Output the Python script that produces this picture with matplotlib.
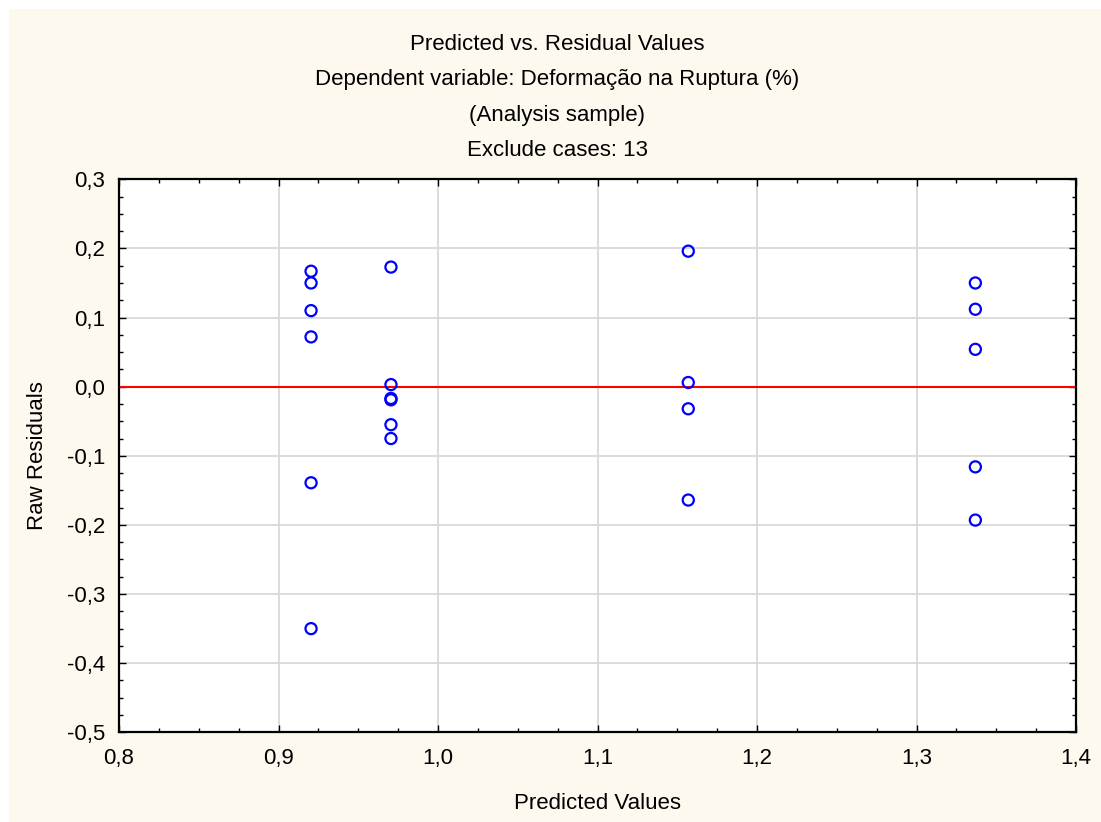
import matplotlib
matplotlib.use('Agg')
from matplotlib import pyplot as plt
from matplotlib.patches import Rectangle
from matplotlib.ticker import FuncFormatter, MultipleLocator

# predicted values (one per fitted group) and the raw residuals around them
PRED_A = 0.9204
PRED_B = 0.9705
PRED_C = 1.1569
PRED_D = 1.3369

RESID_A = [0.167, 0.150, 0.110, 0.072, -0.139, -0.350]
RESID_B = [0.173, 0.003, -0.017, -0.019, -0.055, -0.075]
RESID_C = [0.196, 0.006, -0.032, -0.164]
RESID_D = [0.150, 0.112, 0.054, -0.116, -0.193]

TITLE_LINES = ['Predicted vs. Residual Values',
               'Dependent variable: Deformação na Ruptura (%)',
               '(Analysis sample)',
               'Exclude cases: 13']

plt.rcParams['font.family'] = ['Liberation Sans', 'DejaVu Sans']
FS = 16

x = ([PRED_A] * len(RESID_A) + [PRED_B] * len(RESID_B)
     + [PRED_C] * len(RESID_C) + [PRED_D] * len(RESID_D))
y = RESID_A + RESID_B + RESID_C + RESID_D

fig = plt.figure(figsize=(11.01, 8.22), dpi=100)
fig.patch.set_facecolor('white')
fig.patches.append(Rectangle((9 / 1101, 0), 1, 1 - 9 / 822,
                             transform=fig.transFigure, facecolor='#FDF9EF',
                             edgecolor='none', zorder=-10))

ax = fig.add_axes([0.1081, 0.1091, 0.8692, 0.6728])
ax.set_facecolor('white')
ax.set_xlim(0.8, 1.4)
ax.set_ylim(-0.5, 0.3)

ax.xaxis.set_major_locator(MultipleLocator(0.1))
ax.yaxis.set_major_locator(MultipleLocator(0.1))
ax.xaxis.set_minor_locator(MultipleLocator(0.025))
ax.yaxis.set_minor_locator(MultipleLocator(0.025))
comma = FuncFormatter(lambda v, p: f'{v:.1f}'.replace('.', ',').replace('-0,0', '0,0'))
ax.xaxis.set_major_formatter(comma)
ax.yaxis.set_major_formatter(comma)

ax.tick_params(which='both', direction='in', top=True, right=True,
               labelsize=FS, color='black')
ax.tick_params(which='major', length=5, width=1)
ax.tick_params(axis='x', which='major', pad=11)
ax.tick_params(axis='y', which='major', pad=10)
ax.tick_params(which='minor', length=3, width=1)
for s in ax.spines.values():
    s.set_linewidth(1.6)

ax.grid(True, which='major', color='#D9D9D9', linewidth=1.3)
ax.set_axisbelow(True)

ax.axhline(0, color='#FF0000', linewidth=1.5, zorder=2)
ax.scatter(x, y, s=64, facecolors='none', edgecolors='#0000FF',
           linewidths=1.6, zorder=3)

ax.set_xlabel('Predicted Values', fontsize=FS, va='center')
ax.set_ylabel('Raw Residuals', fontsize=FS, va='center')
ax.xaxis.set_label_coords(0.5, -0.128)
ax.yaxis.set_label_coords(-0.0857, 0.5)

# four-line header, centred over the figure
for i, line in enumerate(TITLE_LINES):
    fig.text(0.506, 1 - (44 + 35.5 * i) / 822, line, ha='center',
             va='center', fontsize=FS)

fig.savefig('out.png', dpi=100, facecolor=fig.get_facecolor())
